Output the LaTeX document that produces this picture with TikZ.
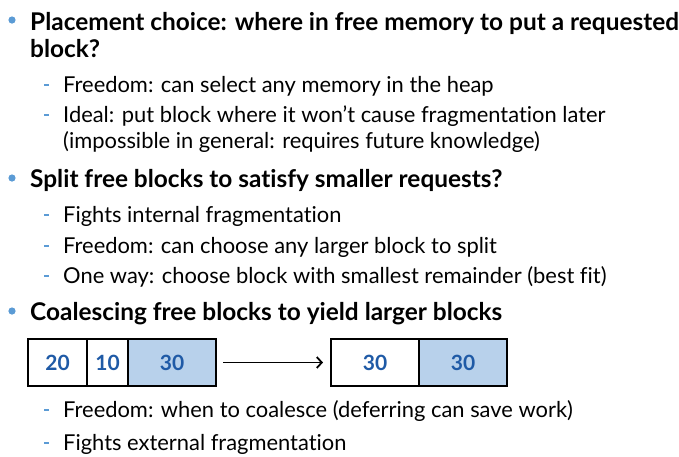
\documentclass[tikz,border=0pt]{standalone}
\usepackage{fontspec}
\setmainfont{Lato}[Ligatures=NoCommon]
\usetikzlibrary{positioning,arrows.meta}
\definecolor{dotblue}{HTML}{5B9BD5}
\definecolor{numblue}{HTML}{1F5AA6}
\definecolor{freeblue}{HTML}{B8D1EB}
\tikzset{
  head/.style={anchor=base west,inner sep=0pt,font=\fontsize{24.4}{28}\selectfont\bfseries},
  item/.style={anchor=base west,inner sep=0pt,font=\fontsize{21.9}{26}\selectfont},
  blk/.style={draw=black,line width=2.4pt,minimum height=47,inner sep=0pt,outer sep=0pt,
    text=numblue,font=\fontsize{21}{24}\selectfont\bfseries},
}
\begin{document}
\begin{tikzpicture}[x=1pt,y=-1pt,>={Straight Barb[length=5pt,width=11pt]}]
  \useasboundingbox (0,0) rectangle (679,456);
  % top level bullets
  \fill[dotblue] (12,20)circle(3.6) (12,178)circle(3.6) (12,311)circle(3.6);
  \node[head] (place) at (30,30) {Placement choice: where in free memory to put a requested};
  \node[head] (place2) at (30,57) {block?};
  \node[head] (split) at (30,187) {Split free blocks to satisfy smaller requests?};
  \node[head] (coal) at (30,320) {Coalescing free blocks to yield larger blocks};
  % second level dashes
  \foreach \y in {92,122,222,253,283,417,450}
    \fill[dotblue] (44,\y-8)rectangle++(5,2);
  \node[item] (freedom) at (63,92) {Freedom: can select any memory in the heap};
  \node[item] (ideal) at (63,122) {Ideal: put block where it won’t cause fragmentation later};
  \node[item] (ideal2) at (63,148) {(impossible in general: requires future knowledge)};
  \node[item] (intfrag) at (63,222) {Fights internal fragmentation};
  \node[item] (larger) at (63,253) {Freedom: can choose any larger block to split};
  \node[item] (bestfit) at (63,283) {One way: choose block with smallest remainder (best fit)};
  \node[item] (when) at (63,417) {Freedom: when to coalesce (deferring can save work)};
  \node[item] (extfrag) at (63,450) {Fights external fragmentation};
  % blocks before and after coalescing
  \node[blk,minimum width=59,anchor=north west] (b20) at (28,339) {20};
  \node[blk,minimum width=41,right=0pt of b20] (b10) {10};
  \node[blk,minimum width=88,fill=freeblue,right=0pt of b10] (b30) {30};
  \node[blk,minimum width=88,anchor=north west] (c30) at (331,339) {30};
  \node[blk,minimum width=88,fill=freeblue,right=0pt of c30] (c30b) {30};
  \draw[->,line width=1.8pt,shorten <=7pt,shorten >=8pt] (b30) -- (c30);
\end{tikzpicture}
\end{document}
